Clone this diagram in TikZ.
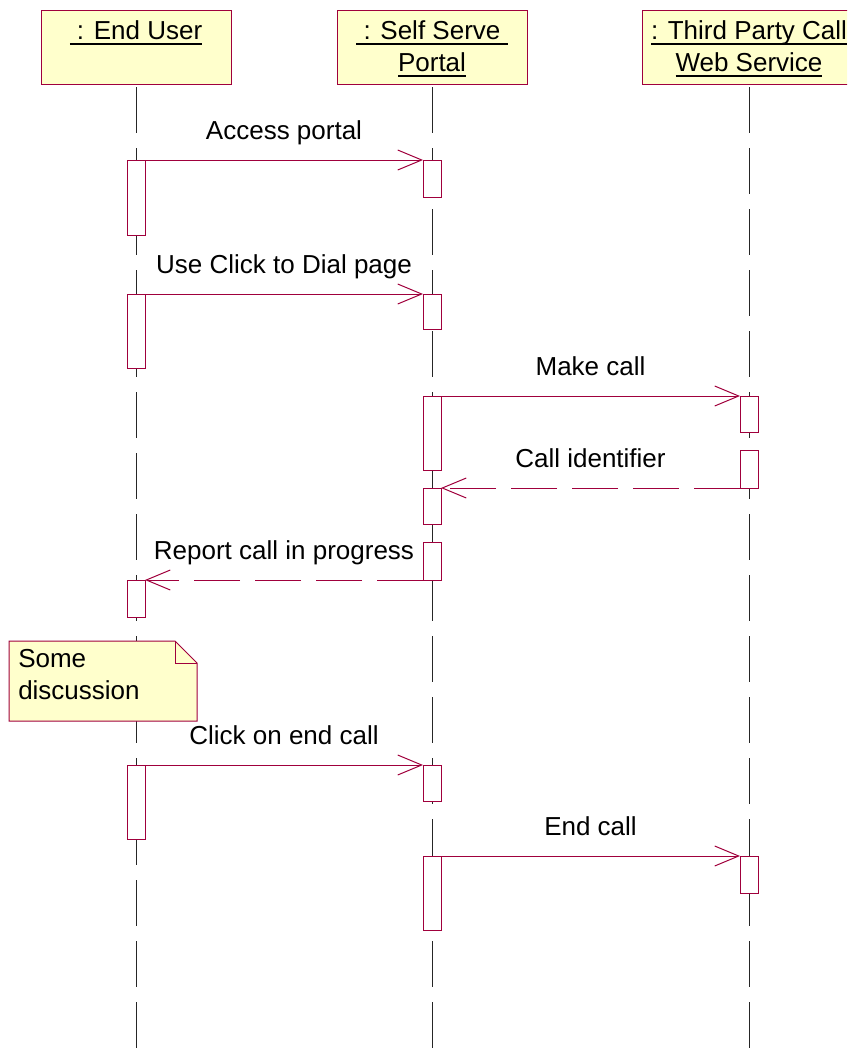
\documentclass[tikz,border=0pt]{standalone}
\usepackage{fontspec}
\setmainfont{Liberation Sans}
\usetikzlibrary{arrows.meta,fit}
\definecolor{umlred}{RGB}{160,0,60}
\definecolor{umlyellow}{RGB}{255,255,204}
\def\w{9}
\newsavebox{\undrbox}
\newcommand{\undr}[1]{\leavevmode\sbox{\undrbox}{#1}\rlap{\rule[-4.2pt]{\wd\undrbox}{1.4pt}}\usebox{\undrbox}}
\tikzset{
  obj/.style={draw=umlred, fill=umlyellow, line width=0.75pt, inner sep=0pt, outer sep=0pt},
  title/.style={anchor=north, align=center, inner sep=0pt, yshift=-7.5pt},
  act/.style={draw=umlred, fill=white, line width=0.75pt, inner sep=0pt, outer sep=0pt},
  life/.style={black!85, line width=0.6pt, dash pattern=on 34.5pt off 11.25pt, dash phase=43.5pt},
  msg/.style={umlred, line width=0.75pt, -{Straight Barb[length=18pt,width=15pt]}},
  ret/.style={msg, dash pattern=on 34.5pt off 11.25pt},
  lbl/.style={midway, anchor=base, yshift=15.75pt, text=black, inner sep=0pt}
}

\begin{document}
\begin{tikzpicture}[x=0.75pt, y=-0.75pt, font=\fontsize{19.5pt}{24pt}\selectfont]
\clip (0,0) rectangle (847,1053);
\coordinate (bottom) at (0,1053);

\node[obj, fit={(41,10) (231,84)}] (eu) {};
\node[obj, fit={(337,10) (527,84)}] (sp) {};
\node[obj, fit={(642,10) (856,84)}] (tp) {};
\node[title] (eut) at (eu.north) {\undr{\ : End User}};
\node[title] (spt) at (sp.north) {\undr{\ : Self Serve\ }\\\undr{Portal}};
\node[title] (tpt) at (tp.north) {\undr{: Third Party Call}\\\undr{Web Service}};

\foreach \o in {eu,sp,tp}{
	\draw[life] (\o.south) -- (\o.south |- bottom);
}

\foreach \n/\x/\t/\b in {e1/136/160/235, e2/136/294/368, e3/136/580/617, e4/136/765/839,
  p1/432/160/197, p2/432/294/329, p3/432/396/470, p4/432/488/524, p5/432/542/580, p6/432/765/801, p7/432/856/930,
  t1/749/396/432, t2/749/450/488, t3/749/856/893}{
	\node[act, fit={(\x-\w,\t) (\x+\w,\b)}] (\n) {};
}

\draw[msg] (e1.north east) -- node[lbl] (m1) {Access portal} (p1.north west);
\draw[msg] (e2.north east) -- node[lbl] (m2) {Use Click to Dial page} (p2.north west);
\draw[msg] (p3.north east) -- node[lbl] (m3) {Make call} (t1.north west);
\draw[ret] (t2.south west) -- node[lbl] (m4) {Call identifier} (p4.north east);
\draw[ret] (p5.south west) -- node[lbl] (m5) {Report call in progress} (e3.north east);
\draw[msg] (e4.north east) -- node[lbl] (m6) {Click on end call} (p6.north west);
\draw[msg] (p7.north east) -- node[lbl] (m7) {End call} (t3.north west);

\coordinate (n1) at (9,641);
\coordinate (n2) at (175,641);
\coordinate (n3) at (197,663);
\coordinate (n4) at (197,721);
\coordinate (n5) at (9,721);
\filldraw[draw=umlred, fill=umlyellow, line width=0.75pt] (n1) -- (n2) -- (n3) -- (n4) -- (n5) -- cycle;
\draw[umlred, line width=0.75pt] (n2) |- (n3);
\node[anchor=north west, align=left, inner sep=0pt] (note) at (18,649) {Some\\discussion};
\end{tikzpicture}
\end{document}
